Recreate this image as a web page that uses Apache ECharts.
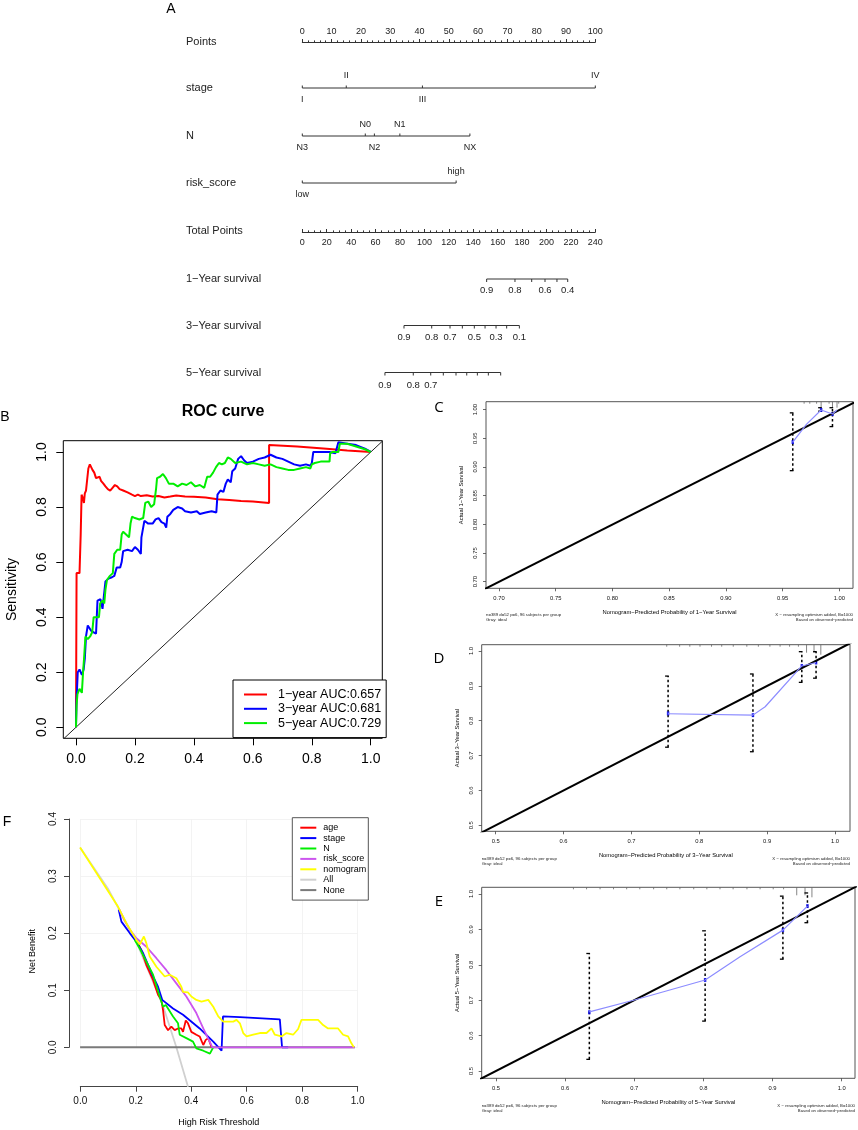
<!DOCTYPE html>
<html><head><meta charset="utf-8">
<script src="https://cdn.jsdelivr.net/npm/echarts@6/dist/echarts.min.js"></script>
<style>html,body{margin:0;padding:0;background:#fff}#c{width:858px;height:1130px}</style>
</head><body><div id="c"></div><script>
// ================= DATA =================
// Nomogram (A)
const stageVals = [0, 15, 41, 100];
const stageLabels = ['I', 'II', 'III', 'IV'];
const nVals = [0, 21.5, 24.6, 33.3, 57.2];
const nLabels = ['N3', 'N0', 'N2', 'N1', 'NX'];
const riskVals = [0, 52.5];
const riskLabels = ['low', 'high'];
const surv1Points = [151.0, 174.2, 187.9, 198.8, 208.6, 217.4];
const surv1Labels = ['0.9', '0.8', '', '0.6', '', '0.4'];
const surv3Points = [83.3, 106.0, 121.0, 131.1, 140.9, 149.7, 158.7, 167.4, 177.8];
const surv3Labels = ['0.9', '0.8', '0.7', '', '0.5', '', '0.3', '', '0.1'];
const surv5Points = [67.7, 90.9, 105.2, 115.5, 125.9, 134.7, 143.4, 152.4, 162.5];
const surv5Labels = ['0.9', '0.8', '0.7', '', '', '', '', '', ''];

// ROC (B)
const rocNames = ['1\u2212year AUC:0.657', '3\u2212year AUC:0.681', '5\u2212year AUC:0.729'];
const roc1 = [[0,0],[0.002,0.56],[0.012,0.56],[0.016,0.70],[0.019,0.845],[0.024,0.83],[0.027,0.815],[0.03,0.85],[0.034,0.86],[0.038,0.90],[0.042,0.94],[0.047,0.955],[0.052,0.95],[0.056,0.935],[0.062,0.925],[0.068,0.905],[0.074,0.90],[0.08,0.91],[0.085,0.895],[0.093,0.885],[0.1,0.875],[0.108,0.865],[0.116,0.86],[0.124,0.87],[0.132,0.88],[0.14,0.875],[0.148,0.865],[0.16,0.86],[0.175,0.853],[0.19,0.845],[0.2,0.84],[0.21,0.845],[0.22,0.84],[0.24,0.843],[0.26,0.838],[0.28,0.84],[0.3,0.835],[0.32,0.838],[0.34,0.842],[0.37,0.838],[0.4,0.837],[0.44,0.835],[0.48,0.828],[0.52,0.826],[0.56,0.822],[0.6,0.82],[0.655,0.815],[0.655,1.025],[0.75,1.02],[0.85,1.012],[0.92,1.005],[1,1.0]];
const roc3 = [[0,0],[0.002,0.1],[0.006,0.2],[0.012,0.21],[0.02,0.19],[0.026,0.21],[0.03,0.25],[0.034,0.33],[0.04,0.37],[0.046,0.36],[0.052,0.35],[0.06,0.345],[0.068,0.34],[0.073,0.46],[0.083,0.465],[0.09,0.43],[0.094,0.47],[0.1,0.53],[0.11,0.54],[0.122,0.545],[0.13,0.55],[0.138,0.58],[0.15,0.58],[0.155,0.6],[0.16,0.64],[0.175,0.645],[0.19,0.64],[0.2,0.655],[0.21,0.645],[0.22,0.63],[0.222,0.69],[0.228,0.69],[0.232,0.75],[0.245,0.74],[0.26,0.74],[0.27,0.755],[0.28,0.76],[0.29,0.745],[0.3,0.74],[0.306,0.725],[0.31,0.765],[0.32,0.775],[0.33,0.79],[0.345,0.8],[0.36,0.795],[0.37,0.785],[0.39,0.78],[0.41,0.785],[0.42,0.775],[0.44,0.78],[0.46,0.785],[0.476,0.78],[0.48,0.845],[0.49,0.86],[0.5,0.855],[0.508,0.885],[0.515,0.9],[0.525,0.89],[0.53,0.93],[0.54,0.94],[0.55,0.975],[0.56,0.985],[0.57,0.97],[0.58,0.96],[0.6,0.965],[0.62,0.975],[0.64,0.98],[0.66,0.99],[0.68,0.98],[0.7,0.975],[0.72,0.965],[0.74,0.955],[0.76,0.95],[0.78,0.955],[0.795,0.95],[0.8,0.96],[0.805,1.0],[0.83,1.0],[0.86,1.0],[0.88,0.995],[0.89,1.035],[0.92,1.03],[0.95,1.025],[0.98,1.012],[1,1.0]];
const roc5 = [[0,0],[0.002,0.08],[0.005,0.12],[0.012,0.14],[0.02,0.125],[0.024,0.2],[0.028,0.26],[0.032,0.33],[0.04,0.32],[0.048,0.33],[0.055,0.345],[0.06,0.4],[0.07,0.4],[0.078,0.4],[0.082,0.45],[0.09,0.46],[0.096,0.45],[0.1,0.5],[0.105,0.535],[0.115,0.55],[0.125,0.56],[0.13,0.63],[0.14,0.645],[0.15,0.645],[0.155,0.7],[0.16,0.71],[0.17,0.7],[0.18,0.69],[0.185,0.74],[0.19,0.765],[0.2,0.76],[0.215,0.755],[0.228,0.76],[0.235,0.815],[0.245,0.82],[0.255,0.8],[0.265,0.81],[0.272,0.87],[0.275,0.905],[0.285,0.91],[0.295,0.92],[0.305,0.905],[0.315,0.885],[0.33,0.885],[0.345,0.875],[0.36,0.885],[0.375,0.88],[0.39,0.89],[0.405,0.875],[0.42,0.88],[0.435,0.87],[0.44,0.865],[0.445,0.91],[0.455,0.91],[0.465,0.925],[0.475,0.945],[0.485,0.96],[0.495,0.955],[0.505,0.96],[0.515,0.98],[0.525,0.975],[0.54,0.96],[0.56,0.965],[0.58,0.955],[0.6,0.96],[0.62,0.955],[0.64,0.95],[0.66,0.955],[0.68,0.945],[0.7,0.94],[0.72,0.935],[0.74,0.935],[0.76,0.94],[0.78,0.945],[0.795,0.94],[0.8,0.955],[0.81,0.96],[0.83,0.965],[0.86,0.965],[0.862,0.995],[0.87,1.0],[0.89,1.0],[0.895,1.03],[0.92,1.03],[0.95,1.02],[0.98,1.01],[1,1.0]];
const rocDiag = [[-0.05,-0.05],[1.05,1.05]];

// Calibration (C, D, E)
const calCPred = [0.959, 0.984, 0.994];
const calCObs  = [0.944, 1.000, 0.993];
const calCLo   = [0.894, 0.998, 0.971];
const calCHi   = [0.995, 1.004, 1.004];
const calCAppX = [0.959, 0.971, 0.984, 0.994, 0.998];
const calCAppY = [0.944, 0.975, 1.000, 0.993, 1.000];
const calCRugX = [0.969, 0.974, 0.980, 0.984, 0.991, 0.994, 0.998, 0.9995];
const calCRugN = [1, 1, 1, 3, 1, 3, 3, 1];

const calDPred = [0.754, 0.879, 0.951, 0.972];
const calDObs  = [0.821, 0.816, 0.957, 0.967];
const calDLo   = [0.724, 0.711, 0.910, 0.922];
const calDHi   = [0.928, 0.934, 0.998, 0.998];
const calDAppX = [0.754, 0.879, 0.897, 0.951, 0.972];
const calDAppY = [0.820, 0.816, 0.840, 0.957, 0.967];
const calDRugX = [0.752,0.771,0.786,0.801,0.818,0.833,0.85,0.87,0.887,0.904,0.919,0.933,0.946,0.958,0.969,0.979];
const calDRugN = [1,1,1,1,1,1,1,1,1,1,1,1,1,4,4,5];

const calEPred = [0.635, 0.8025, 0.915, 0.9505];
const calEObs  = [0.666, 0.757, 0.898, 0.966];
const calELo   = [0.533, 0.641, 0.816, 0.919];
const calEHi   = [0.832, 0.896, 0.994, 1.003];
const calEAppX = [0.635, 0.699, 0.8025, 0.853, 0.915, 0.9505];
const calEAppY = [0.667, 0.700, 0.757, 0.823, 0.898, 0.966];
const calERugX = [0.612,0.631,0.6505,0.67,0.689,0.708,0.728,0.747,0.766,0.786,0.805,0.824,0.843,0.863,0.882,0.901,0.916,0.935,0.947,0.957];
const calERugN = [1,1,1,1,1,1,1,1,1,1,1,1,1,1,1,1,1,4,4,5];

// DCA (F)
const dcaNames = ['age', 'stage', 'N', 'risk_score', 'nomogram', 'All', 'None'];
const dcaAge = [[0.2,0.19],[0.221,0.17],[0.239,0.144],[0.263,0.118],[0.281,0.092],[0.293,0.083],[0.299,0.065],[0.305,0.039],[0.317,0.03],[0.329,0.036],[0.341,0.03],[0.353,0.033],[0.365,0.033],[0.371,0.027],[0.381,0.047],[0.389,0.042],[0.401,0.027],[0.419,0.022],[0.431,0.019],[0.444,0.004],[0.453,0.013],[0.462,0.016],[0.474,0]];
const dcaStage = [[0.139,0.241],[0.149,0.22],[0.179,0.2],[0.203,0.185],[0.227,0.165],[0.263,0.124],[0.281,0.106],[0.296,0.083],[0.335,0.068],[0.371,0.057],[0.431,0.033],[0.48,0.01],[0.51,-0.006],[0.515,0.054],[0.576,0.053],[0.72,0.049],[0.728,0],[0.75,0]];
const dcaN = [[0.197,0.188],[0.215,0.173],[0.239,0.15],[0.263,0.127],[0.287,0.089],[0.299,0.071],[0.309,0.074],[0.335,0.054],[0.353,0.042],[0.359,0.022],[0.383,0.016],[0.407,0.01],[0.419,-0.002],[0.444,-0.006],[0.468,-0.011],[0.48,0]];
const dcaRisk = [[0.14,0.243],[0.16,0.222],[0.179,0.206],[0.203,0.191],[0.239,0.176],[0.275,0.156],[0.311,0.135],[0.347,0.112],[0.383,0.089],[0.419,0.06],[0.444,0.033],[0.477,0],[0.99,0]];
const dcaNomo = [[0,0.35],[0.137,0.246],[0.167,0.217],[0.203,0.188],[0.215,0.18],[0.23,0.194],[0.239,0.182],[0.251,0.159],[0.275,0.141],[0.305,0.124],[0.323,0.127],[0.347,0.121],[0.365,0.106],[0.371,0.097],[0.389,0.096],[0.401,0.089],[0.419,0.083],[0.4375,0.08],[0.462,0.083],[0.48,0.071],[0.498,0.054],[0.516,0.045],[0.552,0.045],[0.564,0.048],[0.576,0.042],[0.588,0.025],[0.6,0.019],[0.624,0.022],[0.648,0.025],[0.672,0.025],[0.69,0.033],[0.702,0.022],[0.726,0.019],[0.744,0.025],[0.768,0.022],[0.786,0.032],[0.798,0.048],[0.858,0.048],[0.876,0.039],[0.894,0.033],[0.93,0.033],[0.948,0.022],[0.966,0.019],[0.978,0.007],[0.987,0]];
const dcaAll = [[0,0.35],[0.1,0.278],[0.2,0.188],[0.3,0.071],[0.347,0],[0.389,-0.069]];
const dcaNone = [[0,0],[0.99,0]];

// ================= BUILD =================
const FONT = '"Liberation Sans", Arial, Helvetica, sans-serif';
const grids = [], xAxes = [], yAxes = [], series = [], graphics = [];

function addGrid(g, x, y) {
  grids.push(Object.assign({show: false, outerBoundsMode: 'none', containLabel: false}, g));
  const i = grids.length - 1;
  xAxes.push(Object.assign({gridIndex: i, type: 'value'}, x));
  yAxes.push(Object.assign({gridIndex: i, type: 'value'}, y));
  return i;
}
function txt(text, x, y, o) {
  o = o || {};
  const align = o.align || 'left', va = o.va || 'middle';
  const st = {text, x: 0, y: 0, fill: o.fill || '#000', fontSize: o.size || 11, fontFamily: o.family || FONT,
    fontWeight: o.weight || 'normal', align, verticalAlign: va, textAlign: align, textVerticalAlign: va};
  const el = {type: 'text', x, y, silent: true, z: 100, style: st};
  if (o.rotation) el.rotation = o.rotation;
  return el;
}
const zip = (a, b) => a.map((v, i) => [v, b[i]]);
const NOLINE = {show: false, onZero: false};

// ---- Nomogram ----
const NL = 302.3, NW = 293, NC = '#333';
graphics.push(txt('A', 171, 9, {size: 14, align: 'center'}));
const rowNames = [['Points', 42], ['stage', 88], ['N', 136], ['risk_score', 183], ['Total Points', 231],
  ['1\u2212Year survival', 279], ['3\u2212Year survival', 326], ['5\u2212Year survival', 373]];
rowNames.forEach(r => graphics.push(txt(r[0], 186, r[1], {size: 11, fill: '#222'})));

addGrid({left: NL, top: 42, width: NW, height: 10},
  {min: 0, max: 100, interval: 10, position: 'top', axisLine: {onZero: false, lineStyle: {color: NC, width: 1}},
   axisTick: {length: 3, lineStyle: {color: NC}}, minorTick: {show: true, splitNumber: 5, length: 1.6, lineStyle: {color: NC}},
   axisLabel: {fontSize: 9, margin: 6, color: '#222', fontFamily: FONT}, splitLine: {show: false}, minorSplitLine: {show: false}},
  {min: 0, max: 1, show: false});

addGrid({left: NL, top: 222, width: NW, height: 10},
  {min: 0, max: 240, interval: 20, position: 'bottom', axisLine: {onZero: false, lineStyle: {color: NC, width: 1}},
   axisTick: {inside: true, length: 3, lineStyle: {color: NC}}, minorTick: {show: true, splitNumber: 4, length: 1.6, lineStyle: {color: NC}},
   axisLabel: {fontSize: 9, margin: 6, color: '#222', fontFamily: FONT}, splitLine: {show: false}},
  {min: 0, max: 1, show: false});

function nomoRow(lineY, max, vals, labels, sides, down, fs, gap) {
  const gi = addGrid({left: NL, top: lineY - 10, width: NW, height: 10}, {min: 0, max, show: false}, {min: 0, max: 1, show: false});
  series.push({type: 'line', xAxisIndex: gi, yAxisIndex: gi, clip: false, silent: true, symbol: 'none',
    data: [[Math.min(...vals), 0], [Math.max(...vals), 0]], lineStyle: {color: NC, width: 1}});
  series.push({type: 'custom', xAxisIndex: gi, yAxisIndex: gi, clip: false, silent: true,
    data: vals.map((v, i) => [v, 0, i]),
    renderItem(params, api) {
      const p = api.coord([api.value(0), api.value(1)]);
      const i = api.value(2);
      const up = sides[i] === 'top';
      const t = down ? 3 : -2.5;
      const ty = up ? p[1] - gap : p[1] + gap;
      return {type: 'group', children: [
        {type: 'line', shape: {x1: p[0], y1: p[1], x2: p[0], y2: p[1] + t}, style: {stroke: NC, lineWidth: 1}},
        {type: 'text', style: {text: labels[i], x: p[0], y: ty, align: 'center', verticalAlign: 'middle', textAlign: 'center', textVerticalAlign: 'middle', fontSize: fs, fontFamily: FONT, fill: '#222'}}
      ]};
    }});
}
nomoRow(88, 100, stageVals, stageLabels, ['bottom', 'top', 'bottom', 'top'], false, 9, 12);
nomoRow(136, 100, nVals, nLabels, ['bottom', 'top', 'bottom', 'top', 'bottom'], false, 9, 11.5);
nomoRow(183, 100, riskVals, riskLabels, ['bottom', 'top'], false, 9, 11.5);
nomoRow(279, 240, surv1Points, surv1Labels, surv1Points.map(() => 'bottom'), true, 9.5, 11.5);
nomoRow(325.5, 240, surv3Points, surv3Labels, surv3Points.map(() => 'bottom'), true, 9.5, 11.5);
nomoRow(372.5, 240, surv5Points, surv5Labels, surv5Points.map(() => 'bottom'), true, 9.5, 12.5);

// ---- ROC (B) ----
graphics.push(txt('B', 5, 417, {size: 14, align: 'center'}));
graphics.push(txt('ROC curve', 223, 412, {size: 16, weight: 'bold', align: 'center'}));
const gRoc = addGrid({left: 63.3, top: 440.7, width: 319, height: 297.6, show: true, borderColor: '#000', borderWidth: 1, backgroundColor: 'transparent'},
  {min: -0.043, max: 1.039, show: false},
  {min: -0.04, max: 1.041, axisLine: NOLINE, axisTick: {show: false}, axisLabel: {show: false}, splitLine: {show: false},
   name: 'Sensitivity', nameLocation: 'middle', nameGap: 44, nameTextStyle: {fontSize: 14, color: '#000', fontFamily: FONT}});
const rocTick = {length: 7, lineStyle: {color: '#000', width: 1}};
addGrid({left: 76, top: 452, width: 294.7, height: 275.3},
  {min: 0, max: 1, interval: 0.2, offset: 11, axisLine: NOLINE, axisTick: rocTick,
   axisLabel: {fontSize: 14, margin: 14, color: '#000', fontFamily: FONT, formatter: v => v.toFixed(1)}, splitLine: {show: false}},
  {min: 0, max: 1, interval: 0.2, offset: 12.7, axisLine: NOLINE, axisTick: rocTick,
   axisLabel: {fontSize: 14, margin: 14, rotate: 90, color: '#000', fontFamily: FONT, formatter: v => v.toFixed(1)}, splitLine: {show: false}});
series.push({type: 'line', xAxisIndex: gRoc, yAxisIndex: gRoc, data: rocDiag, symbol: 'none', silent: true, lineStyle: {color: '#222', width: 1}});
[[roc1, '#ff0000'], [roc3, '#0000ff'], [roc5, '#00ee00']].forEach((d, i) => {
  series.push({type: 'line', name: rocNames[i], xAxisIndex: gRoc, yAxisIndex: gRoc, data: d[0], symbol: 'none', color: d[1],
    lineStyle: {color: d[1], width: 2}});
});

// ---- Calibration (C, D, E) ----
const CF = 5.8;
function calib(letter, letterY, plot, xr, yr, ax, axMin, interval, digits, offX, offY, yrLabel, pred, obs, lo, hi, appX, appY, rugX, rugN, footY) {
  graphics.push(txt(letter, 439, letterY, {size: 15, align: 'center', family: '"Open Sans", ' + FONT}));
  const nameStyle = {fontSize: CF, color: '#000', fontFamily: FONT};
  const g = addGrid(Object.assign({show: true, borderColor: '#555', borderWidth: 1, backgroundColor: 'transparent'}, plot),
    {min: xr[0], max: xr[1], axisLine: NOLINE, axisTick: {show: false}, axisLabel: {show: false}, splitLine: {show: false},
     name: 'Nomogram\u2212Predicted Probability of ' + yrLabel + '\u2212Year Survival', nameLocation: 'middle', nameGap: 21.5, nameTextStyle: nameStyle},
    {min: yr[0], max: yr[1], axisLine: NOLINE, axisTick: {show: false}, axisLabel: {show: false}, splitLine: {show: false},
     name: 'Actual ' + yrLabel + '\u2212Year Survival', nameLocation: 'middle', nameGap: 21.5, nameTextStyle: nameStyle});
  const tick = {length: 3, lineStyle: {color: '#444', width: 0.8}};
  const lab = {fontSize: CF, margin: 7.5, color: '#111', fontFamily: FONT, formatter: v => v.toFixed(digits)};
  addGrid(ax,
    {min: axMin, max: 1, interval, offset: offX, axisLine: NOLINE, axisTick: tick, axisLabel: lab, splitLine: {show: false}},
    {min: axMin, max: 1, interval, offset: offY, axisLine: NOLINE, axisTick: tick, axisLabel: Object.assign({rotate: 90}, lab), splitLine: {show: false}});
  // ideal line
  series.push({type: 'line', xAxisIndex: g, yAxisIndex: g, data: [[0.3, 0.3], [1.1, 1.1]], symbol: 'none', silent: true, lineStyle: {color: '#000', width: 2}});
  // rug
  series.push({type: 'custom', xAxisIndex: g, yAxisIndex: g, silent: true, clip: false, data: zip(rugX, rugN),
    renderItem(params, api) {
      const p = api.coord([api.value(0), yr[1]]);
      const cs = params.coordSys;
      return {type: 'line', shape: {x1: p[0], y1: cs.y, x2: p[0], y2: cs.y + 2 * api.value(1)}, style: {stroke: '#666', lineWidth: 0.8}};
    }});
  // apparent
  series.push({type: 'line', xAxisIndex: g, yAxisIndex: g, data: zip(appX, appY), symbol: 'none', silent: true, lineStyle: {color: '#8c8cff', width: 1.2}});
  // error bars
  series.push({type: 'custom', xAxisIndex: g, yAxisIndex: g, silent: true, clip: false, data: pred.map((x, i) => [x, lo[i], hi[i]]),
    renderItem(params, api) {
      const a = api.coord([api.value(0), api.value(1)]);
      const b = api.coord([api.value(0), api.value(2)]);
      return {type: 'group', children: [
        {type: 'line', shape: {x1: a[0], y1: a[1], x2: b[0], y2: b[1]}, style: {stroke: '#000', lineWidth: 1.5, lineDash: [2.5, 2.5]}},
        {type: 'line', shape: {x1: a[0] - 3, y1: a[1], x2: a[0] + 0.7, y2: a[1]}, style: {stroke: '#000', lineWidth: 1.3}},
        {type: 'line', shape: {x1: b[0] - 3, y1: b[1], x2: b[0] + 0.7, y2: b[1]}, style: {stroke: '#000', lineWidth: 1.3}}
      ]};
    }});
  // points
  series.push({type: 'scatter', xAxisIndex: g, yAxisIndex: g, data: zip(pred, obs), symbol: 'rect', symbolSize: [2.5, 4], silent: true, itemStyle: {color: '#0000ee'}});
  // footers
  const L = plot.left, R = plot.left + plot.width;
  const fs = {size: 4.3, fill: '#222'};
  graphics.push(txt('n=389 d=52 p=6, 96 subjects per group', L, footY, fs));
  graphics.push(txt('Gray: ideal', L, footY + 5, fs));
  graphics.push(txt('X \u2212 resampling optimism added, B=1000', R, footY, Object.assign({align: 'right'}, fs)));
  graphics.push(txt('Based on observed\u2212predicted', R, footY + 5, Object.assign({align: 'right'}, fs)));
}
calib('C', 408, {left: 486, top: 401.7, width: 367, height: 186.6}, [0.6885, 1.0121], [0.6885, 1.0145],
  {left: 499, top: 409.6, width: 340.3, height: 172.1}, 0.70, 0.05, 2, 6.6, 13, '1',
  calCPred, calCObs, calCLo, calCHi, calCAppX, calCAppY, calCRugX, calCRugN, 615.3);
calib('D', 659, {left: 481.7, top: 644.7, width: 368.3, height: 186.6}, [0.4794, 1.022], [0.4828, 1.018],
  {left: 495.7, top: 651, width: 339.3, height: 174.3}, 0.5, 0.1, 1, 6, 14, '3',
  calDPred, calDObs, calDLo, calDHi, calDAppX, calDAppY, calDRugX, calDRugN, 859);
calib('E', 902, {left: 481.7, top: 887.3, width: 373.3, height: 191}, [0.4793, 1.0193], [0.4794, 1.019],
  {left: 496, top: 894, width: 345.7, height: 177}, 0.5, 0.1, 1, 7.3, 14.3, '5',
  calEPred, calEObs, calELo, calEHi, calEAppX, calEAppY, calERugX, calERugN, 1105.7);

// ---- DCA (F) ----
graphics.push(txt('F', 7, 822, {size: 14, align: 'center'}));
const gF = addGrid({left: 69, top: 816, width: 299.6, height: 270.7},
  {min: -0.04, max: 1.04, axisLine: NOLINE, axisTick: {show: false}, axisLabel: {show: false}, splitLine: {show: false},
   name: 'High Risk Threshold', nameLocation: 'middle', nameGap: 31, nameTextStyle: {fontSize: 9, color: '#000', fontFamily: FONT}},
  {min: -0.069, max: 0.405, axisLine: NOLINE, axisTick: {show: false}, axisLabel: {show: false}, splitLine: {show: false},
   name: 'Net Benefit', nameLocation: 'middle', nameGap: 31.5, nameTextStyle: {fontSize: 9, color: '#000', fontFamily: FONT}});
const fTick = {length: 5, lineStyle: {color: '#444', width: 1}};
const fLine = {show: true, onZero: false, lineStyle: {color: '#444', width: 1}};
const fSplit = {show: true, lineStyle: {color: '#f0f0f0', width: 0.8}};
addGrid({left: 80.3, top: 819, width: 277.4, height: 228.3},
  {min: 0, max: 1, interval: 0.2, offset: 39.4, axisLine: fLine, axisTick: fTick,
   axisLabel: {fontSize: 10, margin: 10, color: '#111', fontFamily: FONT, formatter: v => v.toFixed(1)}, splitLine: fSplit},
  {min: 0, max: 0.4, interval: 0.1, offset: 11.3, axisLine: fLine, axisTick: fTick,
   axisLabel: {fontSize: 10, margin: 10.5, rotate: 90, color: '#111', fontFamily: FONT, formatter: v => v.toFixed(1)}, splitLine: fSplit});
const dcaData = {age: dcaAge, stage: dcaStage, N: dcaN, risk_score: dcaRisk, nomogram: dcaNomo, All: dcaAll, None: dcaNone};
const dcaColors = {age: '#ff0000', stage: '#0000ff', N: '#00ee00', risk_score: '#cc55ee', nomogram: '#ffff00', All: '#d0d0d0', None: '#7a7a7a'};
['All', 'None', 'age', 'stage', 'N', 'risk_score', 'nomogram'].forEach(n => {
  series.push({type: 'line', name: n, xAxisIndex: gF, yAxisIndex: gF, data: dcaData[n], symbol: 'none', color: dcaColors[n],
    lineStyle: {color: dcaColors[n], width: n === 'None' ? 2 : 1.8}});
});

const option = {
  animation: false,
  backgroundColor: '#fff',
  grid: grids, xAxis: xAxes, yAxis: yAxes, series,
  legend: [
    {data: rocNames, orient: 'vertical', left: 233, top: 680, icon: 'rect', itemWidth: 23, itemHeight: 2, itemGap: 1.3,
     padding: [8, 5, 8, 11], borderColor: '#000', borderWidth: 1, borderRadius: 0, backgroundColor: '#fff', selectedMode: false,
     textStyle: {fontSize: 12.5, lineHeight: 13, color: '#000', fontFamily: FONT, padding: [0, 0, 0, 6]}},
    {data: dcaNames, orient: 'vertical', left: 292.3, top: 817.7, icon: 'rect', itemWidth: 16, itemHeight: 2, itemGap: 0.4,
     padding: [5, 2, 5, 8], borderColor: '#555', borderWidth: 1, borderRadius: 0, backgroundColor: '#fff', selectedMode: false,
     textStyle: {fontSize: 9, lineHeight: 10, color: '#000', fontFamily: FONT, padding: [0, 0, 0, 2]}}
  ],
  graphic: {elements: graphics}
};
const chart = echarts.init(document.getElementById('c'), null, {renderer: 'canvas'});
chart.setOption(option);
</script></body></html>
